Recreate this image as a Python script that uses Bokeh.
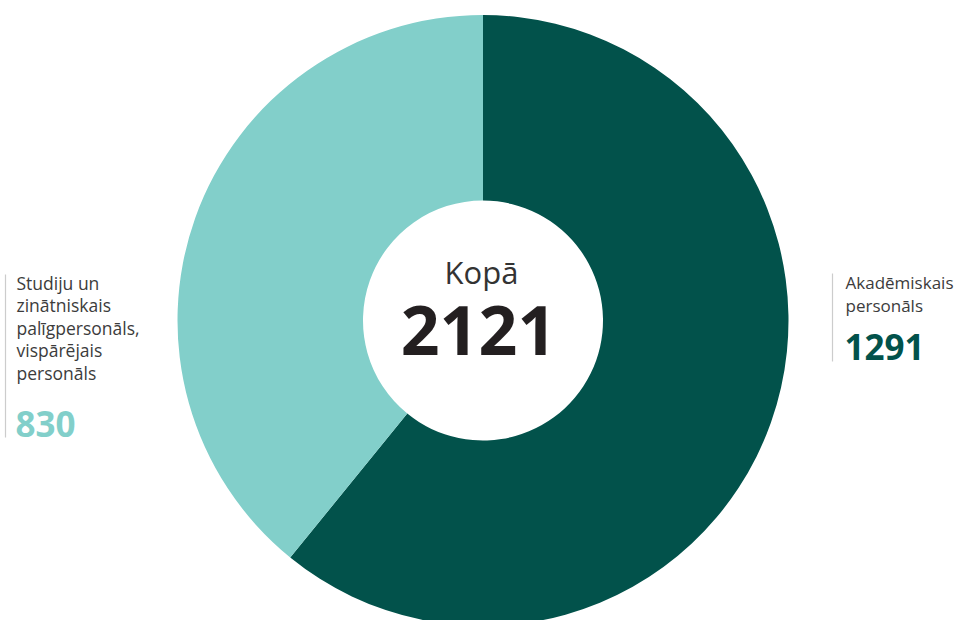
import math
from bokeh.plotting import figure
from bokeh.models import Range1d, ColumnDataSource
from bokeh.core.properties import value
from bokeh.embed import file_html
from bokeh.resources import INLINE

# ---- data ----
categories = ["Akadēmiskais personāls",
              "Studiju un zinātniskais palīgpersonāls, vispārējais personāls"]
values = [1291, 830]
label_lines = [["Akadēmiskais", "personāls"],
               ["Studiju un", "zinātniskais", "palīgpersonāls,", "vispārējais", "personāls"]]
colors = ["#02524b", "#82cfca"]
total_title = "Kopā"

total = sum(values)

# ---- figure (data coords: x = image x, y = 620 - image y) ----
W, H = 963, 620
p = figure(width=W, height=H, output_backend="svg", toolbar_location=None,
           x_range=Range1d(0, W), y_range=Range1d(0, H),
           min_border=0, outline_line_color=None, background_fill_color="white")
p.axis.visible = False
p.grid.visible = False

cx, cy = 482.5, 620 - 320
r_out, r_in = 305.5, 120

starts, ends = [], []
acc = 0
for v in values:
    starts.append(math.pi / 2 - 2 * math.pi * acc / total)
    acc += v
    ends.append(math.pi / 2 - 2 * math.pi * acc / total)

src = ColumnDataSource(dict(start=starts, end=ends, color=colors, cat=categories))
p.annular_wedge(x=cx, y=cy, inner_radius=r_in, outer_radius=r_out,
                start_angle="start", end_angle="end", direction="clock",
                fill_color="color", line_color=None, source=src)

font = value("Open Sans")

# center labels
p.text(x=[481], y=[620 - 271], text=[total_title], text_font=font,
       text_font_size="31px", text_color="#333333", text_align="center",
       text_baseline="alphabetic")
p.text(x=[478], y=[620 - 329.5], text=[f"{total}"], text_font=font,
       text_font_size="68px", text_font_style="bold", text_color="#231f20",
       text_align="center", text_baseline="alphabetic")

line_h = 22.5
# right label (Akadēmiskais)
rx, ry0 = 845, 282
for i, t in enumerate(label_lines[0]):
    p.text(x=[rx], y=[620 - (ry0 + i * line_h)], text=[t], text_font=font,
           text_font_size="17px", text_color="#3c3c3c", text_baseline="alphabetic")
p.text(x=[rx - 1], y=[620 - 346.5], text=[f"{values[0]}"], text_font=font,
       text_font_size="35px", text_font_style="bold", text_color=colors[0],
       text_baseline="alphabetic")
p.segment(x0=[832], y0=[620 - 273], x1=[832], y1=[620 - 361],
          line_color="#cccccc", line_width=1.2)

# left label
lx, ly0 = 16, 282
for i, t in enumerate(label_lines[1]):
    p.text(x=[lx], y=[620 - (ly0 + i * line_h)], text=[t], text_font=font,
           text_font_size="17.5px", text_color="#3c3c3c", text_baseline="alphabetic")
p.text(x=[lx - 1], y=[620 - 423], text=[f"{values[1]}"], text_font=font,
       text_font_size="35px", text_font_style="bold", text_color=colors[1],
       text_baseline="alphabetic")
p.segment(x0=[5], y0=[620 - 274], x1=[5], y1=[620 - 437],
          line_color="#cccccc", line_width=1.2)

open("out.html", "w").write(file_html(p, INLINE))
